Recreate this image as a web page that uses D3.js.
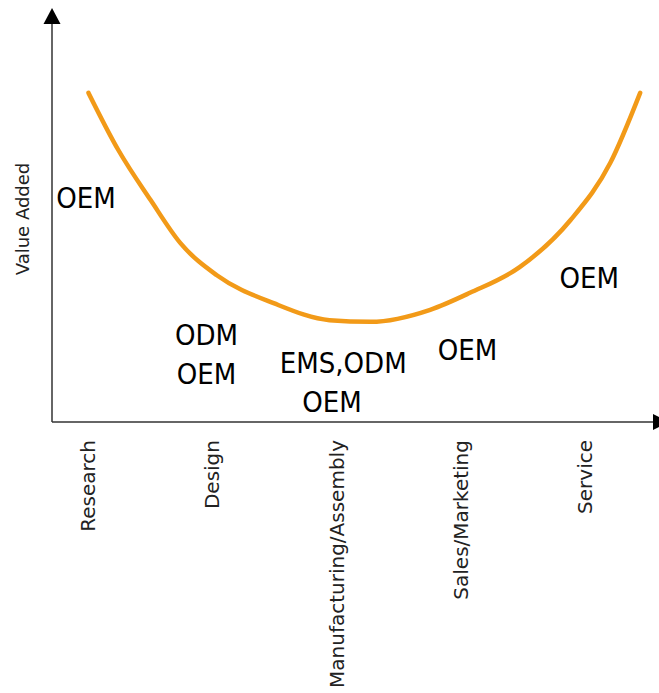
<!DOCTYPE html>
<html>
<head>
<meta charset="utf-8">
<script src="https://cdn.jsdelivr.net/npm/d3@7"></script>
<style>
  html, body { margin: 0; padding: 0; background: #fff; }
  svg { display: block; }
</style>
</head>
<body>
<svg id="chart"></svg>
<script>
"use strict";

// value chain stages along the x axis
var stages = ["Research", "Design", "Manufacturing/Assembly", "Sales/Marketing", "Service"];

// smile curve, [stage position, value added]
var curve = [
  [0.02, 79.5], [0.26, 65.7], [0.52, 53.6], [0.76, 43.2], [1.05, 35.5],
  [1.51, 28.7], [1.96, 24.6], [2.29, 24.2], [2.77, 27.1], [3.09, 31.2],
  [3.49, 37.4], [3.90, 48.8], [4.22, 62.6], [4.46, 79.5]
];

// who sits where on the curve: [text, stage position, value]
var players = [
  ["OEM", 0.00, 51.7],
  ["ODM", 0.97, 18.6],
  ["OEM", 0.97, 9.2],
  ["EMS,ODM", 2.07, 11.8],
  ["OEM", 1.98, 2.4],
  ["OEM", 3.07, 15.0],
  ["OEM", 4.05, 32.4]
];

var yTitle = "Value Added";

var Draw = (function() {
  var width = 659, height = 693;
  var x0 = 52, y0 = 422;

  var svg = d3.select("#chart").attr("width", width).attr("height", height);

  var x = d3.scaleLinear().domain([0, stages.length - 1]).range([86, 583]);
  var y = d3.scaleLinear().domain([0, 100]).range([y0, 8]);

  // axes with arrow heads
  svg.append("line")
    .attr("x1", x0).attr("y1", y0).attr("x2", x0).attr("y2", 20)
    .attr("stroke", "#333").attr("stroke-width", 1.5);
  svg.append("path")
    .attr("d", "M" + (x0 - 8.5) + ",24L" + x0 + ",8L" + (x0 + 8.5) + ",24Z")
    .attr("fill", "#000");
  svg.append("line")
    .attr("x1", x0).attr("y1", y0).attr("x2", 655).attr("y2", y0)
    .attr("stroke", "#333").attr("stroke-width", 1.5);
  svg.append("path")
    .attr("d", "M653," + (y0 - 8) + "L669," + y0 + "L653," + (y0 + 8) + "Z")
    .attr("fill", "#000");

  // stage labels, rotated, via a tick-less axis
  var axis = svg.append("g")
    .attr("transform", "translate(0," + y0 + ")")
    .call(d3.axisBottom(x).tickValues(d3.range(stages.length))
      .tickFormat(i => stages[i]).tickSize(0));
  axis.select(".domain").remove();
  axis.selectAll("text")
    .attr("font-family", "DejaVu Sans")
    .attr("font-size", 20)
    .attr("fill", "#222")
    .attr("text-anchor", "end")
    .attr("dy", null)
    .attr("y", 0)
    .attr("transform", "translate(8.5,18) rotate(-90)");

  // y title
  svg.append("text")
    .attr("transform", "translate(29," + ((162 + 276) / 2) + ") rotate(-90)")
    .attr("text-anchor", "middle")
    .attr("font-family", "DejaVu Sans")
    .attr("font-size", 18)
    .attr("fill", "#222")
    .text(yTitle);

  // the smile curve
  var line = d3.line()
    .x(d => x(d[0]))
    .y(d => y(d[1]))
    .curve(d3.curveMonotoneX);
  svg.append("path")
    .datum(curve)
    .attr("d", line)
    .attr("fill", "none")
    .attr("stroke", "#f29a18")
    .attr("stroke-width", 4.5)
    .attr("stroke-linecap", "round");

  // company type labels
  svg.selectAll("text.player").data(players)
    .enter().append("text")
    .attr("class", "player")
    .attr("x", d => x(d[1]))
    .attr("y", d => y(d[2]))
    .attr("text-anchor", "middle")
    .attr("font-family", "DejaVu Sans Condensed, DejaVu Sans")
    .attr("font-size", 29)
    .attr("fill", "#000")
    .text(d => d[0]);
});

Draw();
</script>
</body>
</html>
